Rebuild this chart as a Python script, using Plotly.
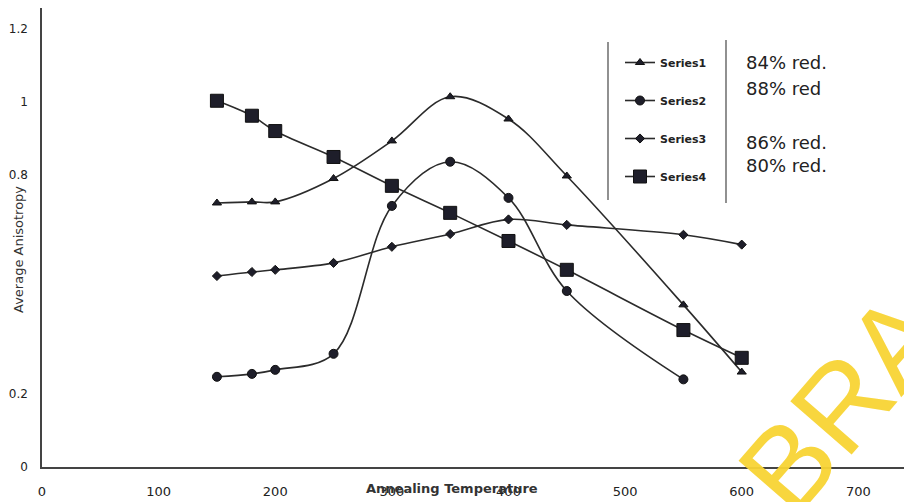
import plotly.graph_objects as go

# ---- data ----
temps = [150, 180, 200, 250, 300, 350, 400, 450, 550, 600]
temps_s2 = [150, 180, 200, 250, 300, 350, 400, 450, 550]
series1 = [0.723, 0.726, 0.726, 0.790, 0.893, 1.014, 0.953, 0.797, 0.444, 0.260]
series2 = [0.247, 0.255, 0.266, 0.310, 0.715, 0.836, 0.737, 0.482, 0.240]
series3 = [0.523, 0.534, 0.540, 0.559, 0.603, 0.638, 0.678, 0.663, 0.636, 0.609]
series4 = [1.003, 0.962, 0.920, 0.849, 0.770, 0.696, 0.619, 0.540, 0.375, 0.299]
series_names = ["Series1", "Series2", "Series3", "Series4"]
reduction_labels = ["84% red.", "88% red", "86% red.", "80% red."]
x_ticks = [0, 100, 200, 300, 400, 500, 600, 700]
y_ticks = [0, 0.2, 0.4, 0.6, 0.8, 1, 1.2]
y_tick_text = ["0", "0.2", "", "", "0.8", "1", "1.2"]

# ---- layout geometry (page has an 8px body margin) ----
OFF = 8
W, H = 912 - OFF, 502 - OFF
AX_L, AX_B, AX_T, AX_R = 42, 467, 8, 912   # plot box in page pixels
ML, MT = AX_L - OFF, AX_T - OFF
MR, MB = W - (AX_R - OFF), H - (AX_B - OFF)
PW, PH = W - ML - MR, H - MT - MB


def px(xp):
    return (xp - AX_L) / PW


def py(yp):
    return (AX_B - yp) / PH


LINE = "#2b2b2b"
FONT = "DejaVu Sans"

fig = go.Figure()
specs = [
    (temps, series1, "triangle-up", 8),
    (temps_s2, series2, "circle", 9),
    (temps, series3, "diamond", 7),
    (temps, series4, "square", 13),
]
for name, (xs, ys, sym, sz) in zip(series_names, specs):
    fig.add_trace(go.Scatter(
        x=xs, y=ys, name=name, legendgroup=name,
        mode="lines+markers",
        line=dict(color=LINE, width=1.6, shape="spline", smoothing=1.0),
        marker=dict(symbol=sym, size=sz, color="#1e1e2a",
                    line=dict(color="#111", width=1)),
        cliponaxis=False,
    ))

annotations = []
label_y = [62, 88, 143, 166]
for txt, yp in zip(reduction_labels, label_y):
    annotations.append(dict(
        text=txt, x=px(744), y=py(yp), xref="paper", yref="paper",
        xanchor="left", yanchor="middle", showarrow=False,
        font=dict(family=FONT, size=18, color="#222"),
    ))

annotations.append(dict(
    text="Annealing Temperature", x=px(452), y=py(488), xref="paper", yref="paper",
    xanchor="center", yanchor="middle", showarrow=False,
    font=dict(family=FONT, size=13, color="#333", weight="bold"),
))
annotations.append(dict(
    text="Average Anisotropy", x=px(18), y=py(250), xref="paper", yref="paper",
    xanchor="center", yanchor="middle", showarrow=False, textangle=-90,
    font=dict(family=FONT, size=13, color="#333"),
))
# scanned-page watermark fragment
annotations.append(dict(
    text="BRA", x=px(842), y=py(403), xref="paper", yref="paper",
    xanchor="center", yanchor="middle", showarrow=False, textangle=-49,
    font=dict(family="Liberation Sans", size=118, color="rgba(248,212,52,0.95)"),
))

shapes = [
    dict(type="line", xref="paper", yref="paper", x0=px(608), x1=px(608),
         y0=py(42), y1=py(200), line=dict(color="#555", width=1.3)),
    dict(type="line", xref="paper", yref="paper", x0=px(726), x1=px(726),
         y0=py(40), y1=py(203), line=dict(color="#555", width=1.3)),
]

fig.update_layout(
    width=W, height=H,
    margin=dict(l=ML, r=MR, t=MT, b=MB),
    paper_bgcolor="white", plot_bgcolor="white",
    font=dict(family=FONT, color="#222"),
    showlegend=True,
    legend=dict(
        x=px(620), y=py(48), xanchor="left", yanchor="top",
        font=dict(family=FONT, size=11, color="#222", weight="bold"),
        bgcolor="rgba(0,0,0,0)", itemwidth=30, tracegroupgap=19,
    ),
    xaxis=dict(
        range=[0, 746], tickvals=x_ticks, showgrid=False, zeroline=False,
        showline=True, linecolor="#444", linewidth=1.5, ticks="",
        ticklabelstandoff=12, tickfont=dict(family=FONT, size=13, color="#222"),
    ),
    yaxis=dict(
        range=[0, 1.257], tickvals=y_ticks, ticktext=y_tick_text,
        showgrid=False, zeroline=False,
        showline=True, linecolor="#444", linewidth=1.5, ticks="",
        ticklabelstandoff=10, tickfont=dict(family=FONT, size=12, color="#222"),
    ),
    annotations=annotations,
    shapes=shapes,
)

fig.write_html("out.html")
